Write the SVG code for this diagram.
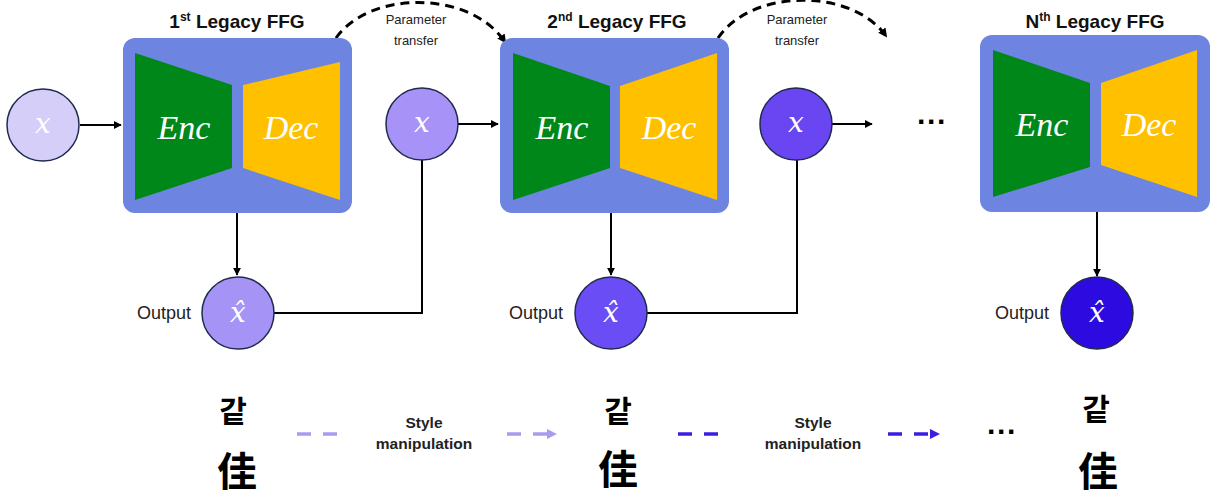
<svg xmlns="http://www.w3.org/2000/svg" width="1214" height="496" viewBox="0 0 1214 496">
<defs>
<marker id="ah" viewBox="0 0 10 10" refX="9" refY="5" markerWidth="4" markerHeight="4" orient="auto" markerUnits="strokeWidth"><path d="M0,0 L10,5 L0,10 z" fill="#000"/></marker>
<marker id="ahd" viewBox="0 0 10 10" refX="8" refY="5" markerWidth="3" markerHeight="3" orient="auto" markerUnits="strokeWidth"><path d="M0,0 L10,5 L0,10 z" fill="#000"/></marker>
<marker id="ahl" viewBox="0 0 10 10" refX="9" refY="5" markerWidth="3" markerHeight="3" orient="auto" markerUnits="strokeWidth"><path d="M0,0 L10,5 L0,10 z" fill="#a99cf0"/></marker>
<marker id="ahb" viewBox="0 0 10 10" refX="9" refY="5" markerWidth="3" markerHeight="3" orient="auto" markerUnits="strokeWidth"><path d="M0,0 L10,5 L0,10 z" fill="#3a1fe0"/></marker>
</defs>
<style>
.box{fill:#6d84e0}
.enc{fill:#00871a}
.dec{fill:#ffc000}
.ed{font-family:"Liberation Serif","DejaVu Serif",serif;font-style:italic;font-size:34px;fill:#fff;text-anchor:middle}
.title{font-family:"Liberation Sans",Arial,sans-serif;font-weight:bold;font-size:19px;fill:#111;text-anchor:middle}
.sup{font-size:12px}
.var{font-family:"DejaVu Serif","Liberation Serif",serif;font-style:italic;font-size:28px;fill:#fff;text-anchor:middle}
.circ{stroke:#1e2b4d;stroke-width:1.5}
.lbl{font-family:"Liberation Sans",Arial,sans-serif;font-size:18px;fill:#222;text-anchor:middle}
.small{font-family:"Liberation Sans",Arial,sans-serif;font-size:13px;fill:#222;text-anchor:middle}
.sm{font-family:"Liberation Sans",Arial,sans-serif;font-weight:bold;font-size:15.5px;fill:#222;text-anchor:middle}
.cjk1{font-family:"Noto Sans CJK KR",sans-serif;font-weight:bold;font-size:30px;fill:#000;text-anchor:middle}
.cjk2{font-family:"Noto Sans CJK KR",sans-serif;font-weight:bold;font-size:40px;fill:#000;text-anchor:middle}
.dots{font-family:"Liberation Sans",Arial,sans-serif;font-weight:bold;font-size:30px;fill:#000;text-anchor:middle}
.ln{fill:none;stroke:#000;stroke-width:2}
.dash{fill:none;stroke:#000;stroke-width:3;stroke-dasharray:9 6}
</style>

<g id="connectors">
<line class="ln" x1="80" y1="125" x2="121" y2="125" marker-end="url(#ah)"/>
<line class="ln" x1="458" y1="124" x2="498" y2="124" marker-end="url(#ah)"/>
<line class="ln" x1="832" y1="124" x2="872" y2="124" marker-end="url(#ah)"/>
<line class="ln" x1="237" y1="213" x2="237" y2="275" marker-end="url(#ah)"/>
<line class="ln" x1="611" y1="213" x2="611" y2="275" marker-end="url(#ah)"/>
<line class="ln" x1="1097" y1="212" x2="1097" y2="276" marker-end="url(#ah)"/>
<polyline class="ln" points="274,313 422,313 422,160"/>
<polyline class="ln" points="647,313 797,313 797,160"/>
<path class="dash" d="M336,38 C370,-10 470,-10 505,42" marker-end="url(#ahd)"/>
<path class="dash" d="M718,38 C752,-12 852,-12 886,36" marker-end="url(#ahd)"/>
<line x1="297" y1="434" x2="340" y2="434" stroke="#a99cf0" stroke-width="3.5" stroke-dasharray="14 12"/>
<line x1="507" y1="434" x2="556" y2="434" stroke="#a99cf0" stroke-width="3.5" stroke-dasharray="14 12" marker-end="url(#ahl)"/>
<line x1="678" y1="434" x2="721" y2="434" stroke="#3a1fe0" stroke-width="3.5" stroke-dasharray="14 12"/>
<line x1="888" y1="434" x2="939" y2="434" stroke="#3a1fe0" stroke-width="3.5" stroke-dasharray="14 12" marker-end="url(#ahb)"/>
</g>

<g id="ffg1">
<rect class="box" x="123" y="38" width="229" height="175" rx="12"/>
<polygon class="enc" points="135,53 232,85 232,168 135,200"/>
<polygon class="dec" points="243,85 340,62 340,200 243,168"/>
<text class="ed" x="184" y="139">Enc</text>
<text class="ed" x="291" y="139">Dec</text>
<text class="title" x="237" y="28">1<tspan class="sup" dy="-7">st</tspan><tspan dy="7"> Legacy FFG</tspan></text>
</g>
<g id="ffg2">
<rect class="box" x="500" y="38" width="229" height="175" rx="12"/>
<polygon class="enc" points="513,53 610,86 610,168 513,200"/>
<polygon class="dec" points="620,86 717,53 717,200 620,168"/>
<text class="ed" x="562" y="139">Enc</text>
<text class="ed" x="669" y="139">Dec</text>
<text class="title" x="617" y="28">2<tspan class="sup" dy="-7">nd</tspan><tspan dy="7"> Legacy FFG</tspan></text>
</g>
<g id="ffgN">
<rect class="box" x="980" y="35" width="230" height="177" rx="12"/>
<polygon class="enc" points="993,50 1090,83 1090,167 993,197"/>
<polygon class="dec" points="1101,83 1197,50 1197,197 1101,165"/>
<text class="ed" x="1042" y="136">Enc</text>
<text class="ed" x="1149" y="136">Dec</text>
<text class="title" x="1095" y="28">N<tspan class="sup" dy="-7">th</tspan><tspan dy="7"> Legacy FFG</tspan></text>
</g>

<g id="x1"><circle class="circ" cx="43" cy="125" r="36" fill="#d5cef8"/><text class="var" x="43" y="133">x</text></g>
<g id="x2"><circle class="circ" cx="422" cy="124" r="36" fill="#a793f7"/><text class="var" x="422" y="132">x</text></g>
<g id="x3"><circle class="circ" cx="796" cy="124" r="36" fill="#6a45f2"/><text class="var" x="796" y="132">x</text></g>

<g id="out1"><circle class="circ" cx="238" cy="313" r="36" fill="#a593f5"/><text class="var" x="238" y="322">x̂</text><text class="lbl" x="164" y="319">Output</text></g>
<g id="out2"><circle class="circ" cx="611" cy="313" r="36" fill="#6b4df5"/><text class="var" x="611" y="322">x̂</text><text class="lbl" x="536" y="319">Output</text></g>
<g id="out3"><circle class="circ" cx="1097" cy="313" r="36" fill="#2d0be0"/><text class="var" x="1097" y="322">x̂</text><text class="lbl" x="1022" y="319">Output</text></g>

<g id="labels">
<text class="small" x="416" y="24">Parameter</text>
<text class="small" x="416" y="45">transfer</text>
<text class="small" x="797" y="24">Parameter</text>
<text class="small" x="797" y="45">transfer</text>
<text class="dots" x="932" y="132">···</text>
<text class="dots" x="1002" y="442">···</text>
<text class="sm" x="424" y="428">Style</text>
<text class="sm" x="424" y="449">manipulation</text>
<text class="sm" x="813" y="428">Style</text>
<text class="sm" x="813" y="449">manipulation</text>
</g>

<g id="chars1"><text class="cjk1" x="233" y="422">같</text><text class="cjk2" x="237" y="486">佳</text></g>
<g id="chars2"><text class="cjk1" x="618" y="422">같</text><text class="cjk2" x="618" y="484">佳</text></g>
<g id="chars3"><text class="cjk1" x="1096" y="420">같</text><text class="cjk2" x="1098" y="486">佳</text></g>
</svg>
